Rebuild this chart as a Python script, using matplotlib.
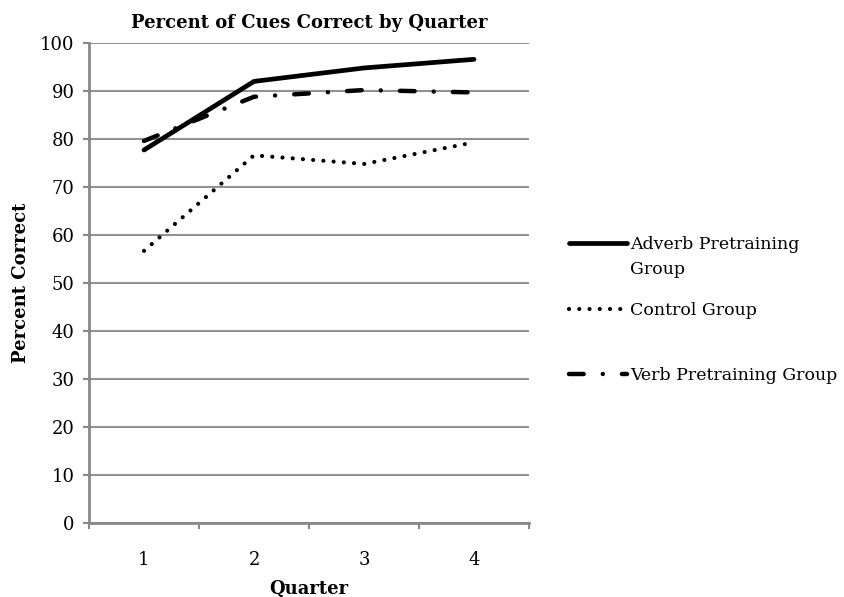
import matplotlib.pyplot as plt

quarters = [1, 2, 3, 4]
adverb = [77.7, 92.0, 94.8, 96.6]
control = [56.7, 76.6, 74.8, 79.3]
verb = [79.6, 88.8, 90.2, 89.7]
yticks = [0, 10, 20, 30, 40, 50, 60, 70, 80, 90, 100]

plt.rcParams['font.family'] = 'DejaVu Serif'

fig = plt.figure(figsize=(8.44, 5.97), dpi=100)
ax = fig.add_axes([89 / 844, 1 - 523 / 597, 440 / 844, 480 / 597])

ax.plot(quarters, adverb, color='black', linewidth=3.4, solid_capstyle='round',
        label='Adverb Pretraining', zorder=3)
ax.plot(quarters, control, color='black', linewidth=3.0, linestyle=(0, (0.01, 2.45)),
        dash_capstyle='round', label='Control Group', zorder=3)
ax.plot(quarters, verb, color='black', linewidth=3.2, linestyle=(0, (3.3, 4.3, 0.01, 4.3)),
        dash_capstyle='round', label='Verb Pretraining Group', zorder=3)

ax.set_xlim(0.5, 4.5)
ax.set_ylim(0, 100)
ax.set_yticks(yticks)
ax.set_xticks(quarters)
ax.set_xticks([0.5, 1.5, 2.5, 3.5, 4.5], minor=True)
ax.tick_params(axis='x', which='major', length=0, labelsize=13, pad=20)
ax.tick_params(axis='x', which='minor', length=4.3, width=1.5, color='#888888')
ax.tick_params(axis='y', length=4.3, width=1.5, color='#888888', labelsize=13, pad=6)
ax.yaxis.grid(True, color='#929292', linewidth=1.5)
ax.set_axisbelow(True)

for s in ['top', 'right']:
    ax.spines[s].set_visible(False)
for s in ['left', 'bottom']:
    ax.spines[s].set_color('#888888')
    ax.spines[s].set_linewidth(2)

ax.set_title('Percent of Cues Correct by Quarter', fontsize=13, fontweight='bold', pad=11)
ax.set_xlabel('Quarter', fontsize=13, fontweight='bold', labelpad=8)
ax.set_ylabel('Percent Correct', fontsize=13, fontweight='bold', labelpad=7)

leg = ax.legend(loc='upper left', bbox_to_anchor=(569 / 844, 1 - 236 / 597),
                bbox_transform=fig.transFigure, frameon=False, fontsize=12.5,
                handlelength=3.33, handletextpad=0.17, labelspacing=2.8,
                borderpad=0, borderaxespad=0)
# second line of the wrapped first legend label
ax.annotate('Group', xy=(0, 0), xycoords=leg.get_texts()[0], xytext=(0, -18),
            textcoords='offset points', ha='left', va='bottom', fontsize=12.5, zorder=6)

fig.savefig('out.png', dpi=100)
